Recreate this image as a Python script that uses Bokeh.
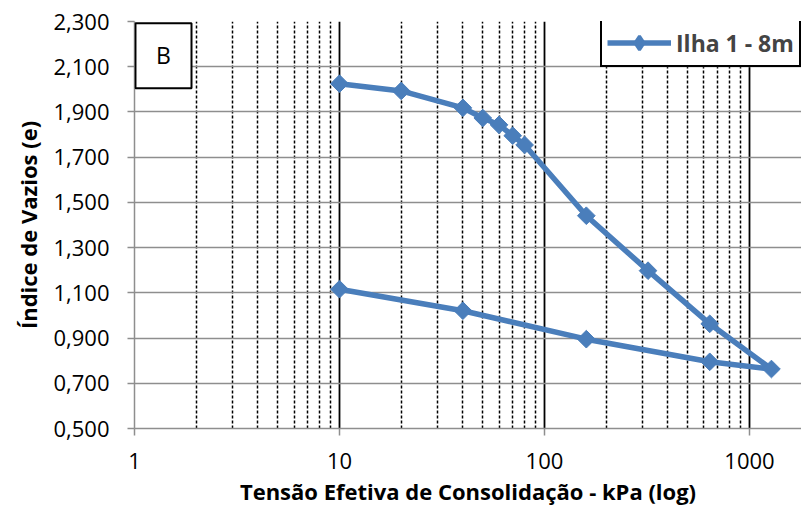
from bokeh.plotting import figure
from bokeh.models import (ColumnDataSource, FixedTicker, CustomJSTickFormatter,
                          Legend, LegendItem, BoxAnnotation, Label, Range1d)
from bokeh.embed import file_html
from bokeh.resources import INLINE

# Oedometer test, consolidation curve (loading then unloading)
stress_kpa = [10, 20, 40, 50, 60, 70, 80, 160, 320, 640, 1280, 640, 160, 40, 10]
void_ratio = [2.025, 1.993, 1.918, 1.873, 1.843, 1.795, 1.754, 1.441, 1.198,
              0.963, 0.763, 0.795, 0.895, 1.021, 1.116]
series_name = "Ilha 1 - 8m"
panel_tag = "B"

x_major = [1, 10, 100, 1000]
x_major_labels = ["1", "10", "100", "1000"]
x_grid_major = [10, 100, 1000]
x_grid_minor = [2, 3, 4, 5, 6, 7, 8, 9,
                20, 30, 40, 50, 60, 70, 80, 90,
                200, 300, 400, 500, 600, 700, 800, 900]
y_ticks = [0.5, 0.7, 0.9, 1.1, 1.3, 1.5, 1.7, 1.9, 2.1, 2.3]
y_tick_labels = ["0,500", "0,700", "0,900", "1,100", "1,300",
                 "1,500", "1,700", "1,900", "2,100", "2,300"]

FONT = "Open Sans"
BLUE = "#4A7EBB"
GRAY = "#8E8E8E"

label_js = """
let best = 0, err = Infinity;
for (let i = 0; i < vals.length; i++) {
  const e = Math.abs(tick - vals[i]) / Math.abs(vals[i]);
  if (e < err) { err = e; best = i; }
}
return labels[best];
"""

p = figure(width=801, height=514, x_axis_type="log",
           x_range=Range1d(1, 1794), y_range=Range1d(0.5, 2.3),
           output_backend="svg", toolbar_location=None,
           min_border_left=134, min_border_right=0,
           min_border_top=21, min_border_bottom=86,
           outline_line_color=None, background_fill_color="white")

# grids: solid at decades, dashed at the intermediate values
p.xgrid.ticker = FixedTicker(ticks=x_grid_major, minor_ticks=x_grid_minor)
p.xgrid.grid_line_color = "black"
p.xgrid.grid_line_width = 1.8
p.xgrid.minor_grid_line_color = "black"
p.xgrid.minor_grid_line_dash = "3 2"
p.xgrid.minor_grid_line_width = 1.5

p.ygrid.ticker = FixedTicker(ticks=y_ticks)
p.ygrid.grid_line_color = GRAY
p.ygrid.grid_line_width = 1.5

# axes
p.xaxis.ticker = FixedTicker(ticks=x_major)
p.xaxis.formatter = CustomJSTickFormatter(
    args=dict(vals=x_major, labels=x_major_labels), code=label_js)
p.yaxis.ticker = FixedTicker(ticks=y_ticks)
p.yaxis.formatter = CustomJSTickFormatter(
    args=dict(vals=y_ticks, labels=y_tick_labels), code=label_js)

for ax in (p.xaxis[0], p.yaxis[0]):
    ax.axis_line_color = GRAY
    ax.axis_line_width = 1.5
    ax.major_tick_line_color = GRAY
    ax.major_tick_line_width = 1.5
    ax.major_tick_in = 0
    ax.major_tick_out = 7
    ax.minor_tick_line_color = None
    ax.major_label_text_font = FONT
    ax.major_label_text_font_size = "22px"
    ax.major_label_text_color = "black"
    ax.axis_label_text_font = FONT
    ax.axis_label_text_font_size = "22px"
    ax.axis_label_text_font_style = "bold"
    ax.axis_label_text_color = "black"

p.xaxis.axis_label = "Tensão Efetiva de Consolidação - kPa (log)"
p.yaxis.axis_label = "Índice de Vazios (e)"
p.xaxis.major_label_standoff = 17
p.xaxis.axis_label_standoff = 4
p.yaxis.major_label_standoff = 18
p.yaxis.axis_label_standoff = 7

src = ColumnDataSource(dict(x=stress_kpa, y=void_ratio))
line_r = p.line("x", "y", source=src, line_color=BLUE, line_width=5.5)
mark_r = p.scatter("x", "y", source=src, marker="square", size=12.5,
                   angle=0.785398, fill_color=BLUE, line_color=BLUE)

# legend swatch: a diamond marker (legend glyphs ignore the rotation above)
swatch_r = p.scatter("x", "y", source=src, marker="diamond", size=12,
                     fill_color=BLUE, line_color=BLUE, line_width=3,
                     visible=False)

legend = Legend(items=[LegendItem(label=series_name, renderers=[line_r, swatch_r])],
                location=(466, 361), border_line_color="black",
                border_line_width=2, border_line_alpha=1,
                background_fill_color="white", background_fill_alpha=1,
                inactive_fill_alpha=0,
                label_text_font=FONT, label_text_font_style="bold",
                label_text_font_size="23px", glyph_width=64, glyph_height=35,
                label_height=35, label_standoff=5, padding=5, margin=0,
                spacing=0)
p.add_layout(legend)

# panel tag box
p.add_layout(BoxAnnotation(left=1.011, right=1.897, bottom=2.005, top=2.2925,
                           fill_color="white", fill_alpha=1,
                           line_color="black", line_alpha=1, line_width=2))
p.add_layout(Label(x=1.385, y=2.15, text=panel_tag, text_font=FONT,
                   text_font_size="23px", text_align="center",
                   text_baseline="middle", text_color="black"))

open("out.html", "w").write(file_html(p, INLINE))
